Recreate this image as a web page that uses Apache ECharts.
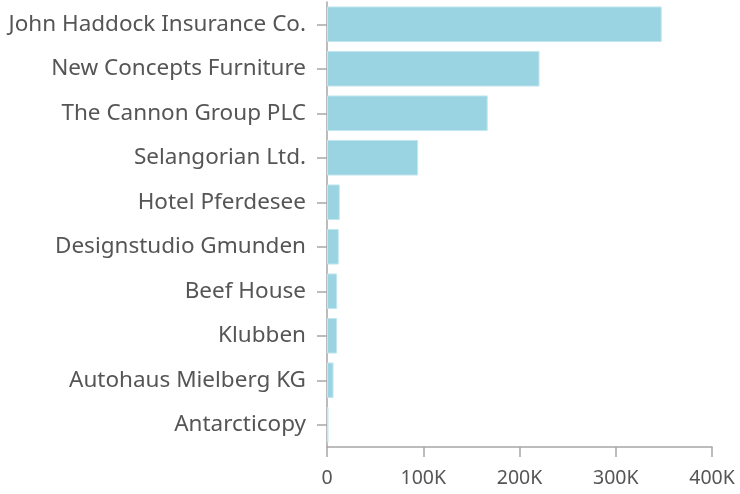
<!DOCTYPE html>
<html>
<head>
<meta charset="utf-8">
<script src="https://cdn.jsdelivr.net/npm/echarts@6/dist/echarts.min.js"></script>
<style>
    html, body { margin: 0; padding: 0; background: #fff; }
    #chart { width: 740px; height: 494px; }
</style>
</head>
<body>
<div id="chart"></div>
<script>
    // customers, top first
    var customers = [
        'John Haddock Insurance Co.',
        'New Concepts Furniture',
        'The Cannon Group PLC',
        'Selangorian Ltd.',
        'Hotel Pferdesee',
        'Designstudio Gmunden',
        'Beef House',
        'Klubben',
        'Autohaus Mielberg KG',
        'Antarcticopy'
    ];
    // sales values
    var sales = [347800, 220800, 167000, 94700, 13300, 12300, 10600, 10500, 6800, 1600];
    var xTicks = [0, 100000, 200000, 300000, 400000];

    var axisGray = '#a6a6a6';
    var textGray = '#555555';
    var fontName = 'Noto Sans';

    var chart = echarts.init(document.getElementById('chart'));
    var option = {
        animation: false,
        grid: {
            left: 327,
            right: 28,
            top: 2,
            bottom: 47
        },
        xAxis: {
            type: 'value',
            min: xTicks[0],
            max: xTicks[xTicks.length - 1],
            interval: xTicks[1] - xTicks[0],
            splitLine: { show: false },
            axisLine: { show: true, lineStyle: { color: axisGray, width: 1.5 } },
            axisTick: { show: true, length: 10, lineStyle: { color: axisGray, width: 1.5 } },
            axisLabel: {
                color: textGray,
                fontFamily: fontName,
                fontSize: 19.5,
                margin: 21,
                formatter: function (v) {
                    return v === 0 ? '0' : (v / 1000) + 'K';
                }
            }
        },
        yAxis: {
            type: 'category',
            inverse: true,
            data: customers,
            axisLine: { show: true, lineStyle: { color: axisGray, width: 1.5 } },
            axisTick: { show: true, alignWithLabel: true, length: 10, lineStyle: { color: axisGray, width: 1.5 } },
            axisLabel: {
                color: textGray,
                fontFamily: fontName,
                fontSize: 22.5,
                margin: 21
            }
        },
        series: [{
            type: 'bar',
            data: sales,
            barCategoryGap: '20%',
            itemStyle: {
                color: '#9ad4e2',
                borderColor: '#c4e7ef',
                borderWidth: 1
            }
        }]
    };
    chart.setOption(option);
</script>
</body>
</html>
